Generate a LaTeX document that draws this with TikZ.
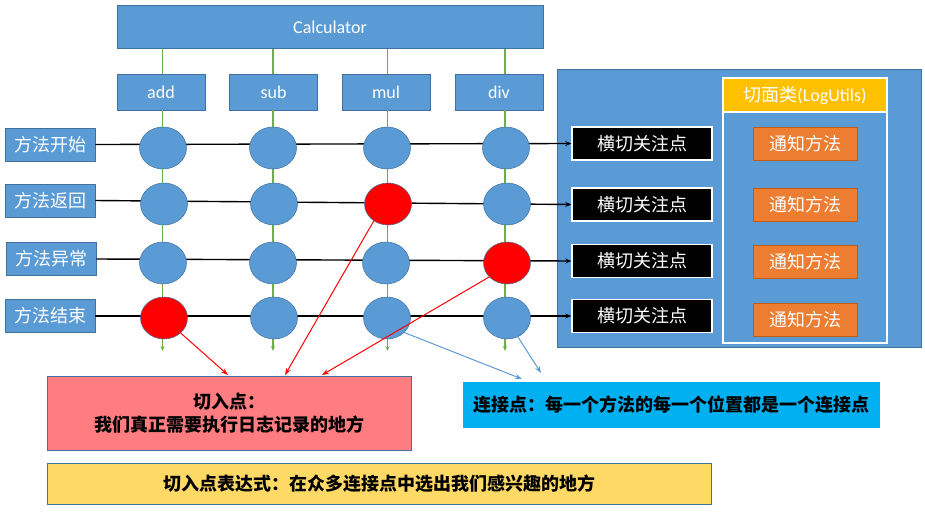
\documentclass[tikz,border=0pt]{standalone}
\usepackage{fontspec}
\setmainfont{Carlito}
\newfontfamily\cjk{Noto Sans CJK SC}
\usetikzlibrary{arrows.meta,shapes.geometric,calc}
\definecolor{mblue}{HTML}{5B9BD5}
\definecolor{mborder}{HTML}{41719C}
\definecolor{mgreen}{HTML}{70AD47}
\definecolor{morange}{HTML}{ED7D31}
\definecolor{moborder}{HTML}{C55A11}
\definecolor{mgold}{HTML}{FFC000}
\definecolor{mpink}{HTML}{FF7C80}
\definecolor{mcyan}{HTML}{00B0F0}
\definecolor{myellow}{HTML}{FFD966}
\definecolor{mred}{HTML}{FF0000}
\begin{document}
\begin{tikzpicture}[x=1pt,y=-1pt,
  txt/.style={font=\fontsize{18}{21}\selectfont},
  bluebox/.style={draw=mborder, line width=0.6pt, fill=mblue, text=white, inner sep=0pt, txt},
  labelbox/.style={bluebox, minimum width=90pt, minimum height=33pt, font=\cjk\fontsize{18}{21}\selectfont},
  methbox/.style={bluebox, minimum width=88pt, minimum height=36pt},
  blackbox/.style={draw=white, line width=1.4pt, fill=black, text=white, inner sep=0pt, minimum width=140pt, minimum height=33pt, font=\cjk\fontsize{18}{21}\selectfont},
  orangebox/.style={draw=moborder, line width=0.6pt, fill=morange, text=white, inner sep=0pt, minimum width=104pt, minimum height=33pt, font=\cjk\fontsize{18}{21}\selectfont},
  jp/.style={ellipse, draw=mborder, line width=0.5pt, fill=mblue, minimum width=47pt, minimum height=42pt, inner sep=0pt},
  redjp/.style={jp, fill=mred},
  noteText/.style={font=\cjk\bfseries\fontsize{18}{23}\selectfont, text=black, inner sep=0pt, align=center},
  gline/.style={draw=mgreen, line width=1.2pt},
  garrow/.style={gline, -{Stealth[length=5pt,width=4pt]}},
  hline/.style={draw=black, line width=1.4pt, -{Stealth[length=6pt,width=5pt]}},
  redarrow/.style={draw=mred, line width=1pt, -{Stealth[length=7pt,width=5pt]}},
  bluearrow/.style={draw=mblue, line width=1pt, -{Stealth[length=7pt,width=5pt]}}
]
\useasboundingbox (0,0) rectangle (925,511);

% top boxes
\node[bluebox, minimum width=426pt, minimum height=43pt] (calc) at (330,27) {Calculator};
\node[methbox] (m1) at (161,92) {add};
\node[methbox] (m2) at (273.5,92) {sub};
\node[methbox] (m3) at (386,92) {mul};
\node[methbox] (m4) at (499,92) {div};

% row labels
\node[labelbox] (l1) at (50,144.5) {方法开始};
\node[labelbox] (l2) at (50,200.5) {方法返回};
\node[labelbox] (l3) at (51,259) {方法异常};
\node[labelbox] (l4) at (50,316) {方法结束};

% right panel
\node[draw=mborder, line width=0.6pt, fill=mblue, minimum width=364pt, minimum height=278pt, inner sep=0pt] (panel) at (739,208) {};
\node[draw=white, line width=1.6pt, fill=mblue, minimum width=164pt, minimum height=265pt, inner sep=0pt] (aspect) at (805,210.5) {};
\node[draw=white, line width=1.6pt, fill=mgold, text=white, minimum width=164pt, minimum height=34pt, inner sep=0pt, txt] (ahead) at (805,95) {{\cjk 切面类}(LogUtils)};
\node[blackbox] (h1) at (642,143.5) {横切关注点};
\node[blackbox] (h2) at (642,204.5) {横切关注点};
\node[blackbox] (h3) at (642,261) {横切关注点};
\node[blackbox] (h4) at (642,316) {横切关注点};
\node[orangebox] (o1) at (805,144) {通知方法};
\node[orangebox] (o2) at (805,204.5) {通知方法};
\node[orangebox] (o3) at (805,261.5) {通知方法};
\node[orangebox] (o4) at (805,319.5) {通知方法};

% green vertical lines
\coordinate (g1) at (162.5,351);
\coordinate (g2) at (273,351);
\coordinate (g3) at (387.5,351);
\coordinate (g4) at (505,351);
\foreach \i in {1,2,3,4} {
  \draw[gline] (calc.south -| g\i) -- (m\i.north -| g\i);
  \draw[garrow] (m\i.south -| g\i) -- (g\i);
}

% horizontal lines
\foreach \i in {1,2,3,4} {
  \draw[hline] (l\i.east) -- (h\i.west);
}

% join points
\node[jp] (c11) at (163,148) {};
\node[jp] (c12) at (273,148) {};
\node[jp] (c13) at (387,148) {};
\node[jp] (c14) at (506,148) {};
\node[jp] (c21) at (164,204) {};
\node[jp] (c22) at (274,204) {};
\node[redjp] (c23) at (388,204) {};
\node[jp] (c24) at (507,204) {};
\node[jp] (c31) at (163,263) {};
\node[jp] (c32) at (273,263) {};
\node[jp] (c33) at (386,263) {};
\node[redjp] (c34) at (507,263) {};
\node[redjp] (c41) at (164,318) {};
\node[jp] (c42) at (274,318) {};
\node[jp] (c43) at (387,318) {};
\node[jp] (c44) at (507,318) {};

% bottom notes
\node[draw=mborder, line width=0.6pt, fill=mpink, minimum width=364pt, minimum height=74pt, inner sep=0pt] (pink) at (229,413) {};
\node[noteText] at (pink.center) {切入点：\\我们真正需要执行日志记录的地方};
\node[draw=mcyan, fill=mcyan, minimum width=416pt, minimum height=45pt, inner sep=0pt, noteText] (cyan) at (671,404.5) {连接点：每一个方法的每一个位置都是一个连接点};
\node[draw=mborder, line width=0.6pt, fill=myellow, minimum width=664pt, minimum height=41pt, inner sep=0pt, noteText] (yel) at (379,483.5) {切入点表达式：在众多连接点中选出我们感兴趣的地方};

% arrow targets
\coordinate (t1) at (228,375);
\coordinate (t2) at (285,375);
\coordinate (t3) at (322,375);
\coordinate (t4) at (522,379);
\coordinate (t5) at (541,373);

\draw[redarrow] (c41.-42) -- (t1);
\draw[redarrow] (c23.-130) -- (t2);
\draw[redarrow] (c34.-142) -- (t3);
\draw[bluearrow] (c43.-40) -- (t4);
\draw[bluearrow] (c44.-60) -- (t5);
\end{tikzpicture}
\end{document}
